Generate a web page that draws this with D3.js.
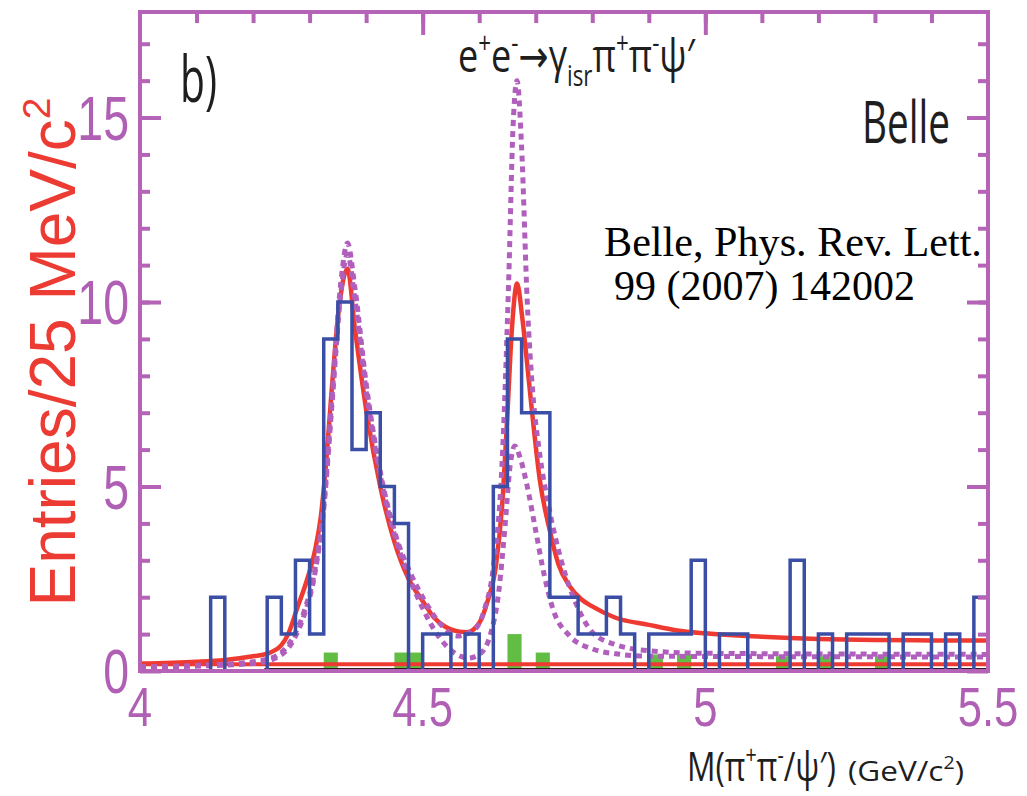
<!DOCTYPE html>
<html>
<head>
<meta charset="utf-8">
<script src="https://cdn.jsdelivr.net/npm/d3@7"></script>
<style>
  body { margin: 0; background: #fff; }
  text { font-family: "Open Sans", sans-serif; }
</style>
</head>
<body>
<div id="container"></div>
<script>
// ---- data ----
// entries per 25 MeV bin, 4.000 .. 5.500 GeV (60 bins)
let counts = [0,0,0,0,0, 2,0,0,0,2, 1,3,1,9,10, 6,7,5,4,0, 1,1,0,1,0,
              5,9,7,7,2, 2,1,1,2,1, 0,1,1,1,3, 0,1,1,0,0, 0,3,0,1,0,
              1,1,1,0,1, 1,0,1,0,2];
let binLow = d3.range(counts.length).map(i => 4 + i * 0.025);

// sideband (green) bins and their heights
let sideBins = [13, 18, 19, 26, 28, 36, 38, 45, 48, 52];
let sideVals = [0.5, 0.5, 0.5, 1.0, 0.5, 0.45, 0.45, 0.4, 0.4, 0.4];

// total fit (red solid)
let fitTotal = [[4.0,0.2],[4.1,0.25],[4.15,0.3],[4.2,0.4],[4.225,0.47],[4.25,0.7],[4.262,1.0],
  [4.278,1.7],[4.296,2.5],[4.31,3.3],[4.32,4.2],[4.33,5.8],[4.338,7.4],[4.351,9.7],[4.367,10.9],
  [4.38,9.3],[4.402,6.9],[4.425,5.0],[4.45,3.5],[4.475,2.5],[4.5,1.9],[4.52,1.45],[4.54,1.2],
  [4.56,1.08],[4.578,1.05],[4.6,1.3],[4.615,1.9],[4.63,2.9],[4.642,4.8],[4.65,7.0],[4.658,9.3],
  [4.667,10.5],[4.676,9.6],[4.685,8.3],[4.695,6.8],[4.707,5.2],[4.725,3.8],[4.74,2.9],[4.76,2.3],
  [4.78,1.95],[4.8,1.75],[4.84,1.45],[4.9,1.25],[4.95,1.1],[5.0,1.02],[5.1,0.93],[5.2,0.87],
  [5.3,0.84],[5.4,0.83],[5.5,0.83]];
// flat background (red) and black component
let fitBkg = [[4.0,0.18],[5.5,0.18]];
let fitBlack = [[4.22,0.04],[5.5,0.04]];

// solution I (dashed, tall second peak)
let solA = [[4.0,0.12],[4.1,0.15],[4.2,0.25],[4.24,0.4],[4.27,0.9],[4.29,1.6],[4.31,2.8],[4.325,4.5],
  [4.34,7.5],[4.355,10.5],[4.367,11.6],[4.38,10.4],[4.4,7.8],[4.425,5.4],[4.45,3.8],[4.48,2.6],
  [4.5,2.0],[4.53,1.3],[4.56,0.95],[4.59,1.1],[4.61,1.7],[4.625,2.8],[4.64,5.5],[4.652,10.5],
  [4.66,14.8],[4.667,16.0],[4.675,14.2],[4.685,10.0],[4.695,7.5],[4.706,6.0],[4.725,4.3],
  [4.745,3.0],[4.775,1.7],[4.8,1.05],[4.84,0.72],[4.9,0.55],[5.0,0.48],[5.5,0.45]];
// solution II (dashed, small second peak)
let solB = [[4.0,0.1],[4.2,0.2],[4.24,0.35],[4.27,0.8],[4.29,1.5],[4.31,2.7],[4.325,4.4],[4.34,7.3],
  [4.355,10.2],[4.367,11.3],[4.38,10.1],[4.4,7.6],[4.425,5.3],[4.45,3.7],[4.48,2.4],[4.5,1.7],
  [4.53,0.9],[4.56,0.45],[4.58,0.35],[4.6,0.45],[4.62,1.0],[4.635,2.2],[4.645,3.8],[4.655,5.6],
  [4.663,6.1],[4.672,5.8],[4.685,5.0],[4.7,3.8],[4.715,2.6],[4.73,1.7],[4.76,0.95],[4.8,0.6],
  [4.85,0.45],[4.9,0.4],[5.5,0.38]];

let yLabels = [0, 5, 10, 15];
let yMinor = d3.range(1, 18, 1);
let xLabels = [4, 4.5, 5, 5.5];
let xLabelText = ["4", "4.5", "5", "5.5"];
let xTopTicks = d3.range(1, 15).map(i => 4 + i * 0.1);
let xTopMajor = [4.5, 5.0];

// ---- layout ----
let w = 1027;
let h = 796;
let magenta = "#b463b6";
let viz = d3.select("#container")
  .append("svg")
    .attr("width", w)
    .attr("height", h)
;

let x = d3.scaleLinear().domain([4, 5.5]).range([140, 988]);
let y = d3.scaleLinear().domain([0, 17.86]).range([671, 12]);

viz.append("clipPath").attr("id", "plotclip")
  .append("rect")
    .attr("x", x(4)).attr("y", y(17.86))
    .attr("width", x(5.5) - x(4)).attr("height", y(0) - y(17.86));

let plot = viz.append("g").attr("clip-path", "url(#plotclip)");

// green sideband bars
plot.selectAll(".side").data(sideBins).enter()
  .append("rect")
    .attr("class", "side")
    .attr("x", d => x(binLow[d]))
    .attr("width", d => x(binLow[d] + 0.025) - x(binLow[d]))
    .attr("y", (d, i) => y(sideVals[i]))
    .attr("height", (d, i) => y(0) - y(sideVals[i]))
    .attr("fill", "#62bd45")
;

let lineMaker = d3.line()
  .x(d => x(d[0]))
  .y(d => y(d[1]))
  .curve(d3.curveMonotoneX)
;

plot.append("path").attr("d", lineMaker(fitBlack))
  .attr("fill", "none").attr("stroke", "#2a1a1a").attr("stroke-width", 3);
plot.append("path").attr("d", lineMaker(fitBkg))
  .attr("fill", "none").attr("stroke", "#ee3a30").attr("stroke-width", 4);

// blue data histogram (step outline)
let stepPts = binLow.map((b, i) => [b, counts[i]]);
stepPts.push([5.5, counts[counts.length - 1]]);
stepPts.push([5.5, 0]);
let stepMaker = d3.line()
  .x(d => x(d[0]))
  .y(d => y(d[1]))
  .curve(d3.curveStepAfter)
;

plot.append("path").attr("d", lineMaker(fitTotal))
  .attr("fill", "none").attr("stroke", "#ee3a30").attr("stroke-width", 4.5);

[solA, solB].forEach(function(s){
  plot.append("path").attr("d", lineMaker(s))
    .attr("fill", "none")
    .attr("stroke", "#b15fbd")
    .attr("stroke-width", 5)
    .attr("stroke-dasharray", "6,5");
});

plot.append("path").attr("d", stepMaker(stepPts))
  .attr("fill", "none").attr("stroke", "#3a4ea6").attr("stroke-width", 3.5)
  .attr("stroke-linejoin", "miter");

// ---- frame and ticks ----
function tickAxis(axis, tx, ty){
  let g = viz.append("g").attr("transform", "translate(" + tx + "," + ty + ")").call(axis);
  g.select(".domain").remove();
  g.selectAll("line").attr("stroke", magenta).attr("stroke-width", 4);
  g.selectAll("text").remove();
}
tickAxis(d3.axisRight(y).tickValues(yMinor).tickSize(10), x(4), 0);
tickAxis(d3.axisRight(y).tickValues(yLabels).tickSize(21), x(4), 0);
tickAxis(d3.axisLeft(y).tickValues(yMinor).tickSize(10), x(5.5), 0);
tickAxis(d3.axisLeft(y).tickValues(yLabels).tickSize(21), x(5.5), 0);
tickAxis(d3.axisBottom(x).tickValues(xTopTicks).tickSize(11), 0, y(17.86));
tickAxis(d3.axisBottom(x).tickValues(xTopMajor).tickSize(23), 0, y(17.86));

viz.append("rect")
  .attr("x", x(4)).attr("y", y(17.86))
  .attr("width", x(5.5) - x(4)).attr("height", y(0) - y(17.86))
  .attr("fill", "none").attr("stroke", magenta).attr("stroke-width", 4);

// squeeze a text horizontally so it spans a given width
function fit(sel, x0, y0, target){
  let bw = sel.node().getBBox().width;
  sel.attr("transform", "translate(" + x0 + "," + y0 + ") scale(" + (target / bw) + ",1)");
}

// tick labels
viz.selectAll(".ylab").data(yLabels).enter()
  .append("text")
    .attr("class", "ylab")
    .attr("transform", d => "translate(129," + y(d) + ") scale(0.75,1)")
    .attr("text-anchor", "end")
    .attr("dy", "0.36em")
    .style("font-family", "'Liberation Sans', Arial, sans-serif")
    .style("font-size", "62px")
    .attr("fill", "#b060b4")
    .text(d => d)
;
viz.selectAll(".xlab").data(xLabels).enter()
  .append("text")
    .attr("class", "xlab")
    .attr("transform", d => "translate(" + x(d) + ",726) scale(0.78,1)")
    .attr("text-anchor", "middle")
    .style("font-family", "'Liberation Sans', Arial, sans-serif")
    .style("font-size", "56px")
    .attr("fill", "#b060b4")
    .text((d, i) => xLabelText[i])
;

// axis titles
let ytitle = viz.append("text")
  .attr("transform", "translate(75,352) rotate(-90)")
  .attr("text-anchor", "middle")
  .style("font-family", "'Liberation Sans', Arial, sans-serif")
  .style("font-size", "64px")
  .attr("fill", "#ec3b33");
ytitle.append("tspan").text("Entries/25 MeV/c");
ytitle.append("tspan").attr("dy", -25).style("font-size", "39px").text("2");

function richText(parent, parts, size){
  let t = parent.append("text").style("font-size", size + "px").attr("fill", "#1e1e1e");
  let shift = 0;
  parts.forEach(function(p){
    let target = p.sup ? -0.42 * size : (p.sub ? 0.3 * size : 0);
    let ts = t.append("tspan").text(p.t).attr("dy", target - shift);
    if (p.sup || p.sub) ts.style("font-size", (size * 0.62) + "px");
    if (p.font) ts.style("font-family", p.font);
    shift = target;
  });
  return t;
}

let title = richText(viz, [
  {t: "e"}, {t: "+", sup: true}, {t: "e"}, {t: "-", sup: true},
  {t: "\u2192", font: "'DejaVu Sans', sans-serif"}, {t: "\u03b3"},
  {t: "isr", sub: true}, {t: "\u03c0"}, {t: "+", sup: true}, {t: "\u03c0"}, {t: "-", sup: true},
  {t: "\u03c8\u2032"}
], 46);
fit(title, 458, 72, 238);

let xtitle = richText(viz, [
  {t: "M(\u03c0"}, {t: "+", sup: true}, {t: "\u03c0"}, {t: "-", sup: true}, {t: "/\u03c8\u2032)"},
], 40);
fit(xtitle, 687, 781, 149);
let xunit = richText(viz, [{t: "(GeV/c"}, {t: "2", sup: true}, {t: ")"}], 28);
fit(xunit, 848, 781, 116);

let blabel = viz.append("text").style("font-size", "64px").attr("fill", "#1e1e1e").text("b)");
fit(blabel, 180, 102, 37);
let belle = viz.append("text").style("font-size", "59px").attr("fill", "#1e1e1e").text("Belle");
fit(belle, 862, 143, 88);

let cite1 = viz.append("text")
  .style("font-family", "'Liberation Serif', 'Times New Roman', serif")
  .style("font-size", "42px").attr("fill", "#000")
  .text("Belle, Phys. Rev. Lett.");
fit(cite1, 604, 256, 378);
let cite2 = viz.append("text")
  .style("font-family", "'Liberation Serif', 'Times New Roman', serif")
  .style("font-size", "42px").attr("fill", "#000")
  .text("99 (2007) 142002");
fit(cite2, 614, 300, 301);
</script>
</body>
</html>
